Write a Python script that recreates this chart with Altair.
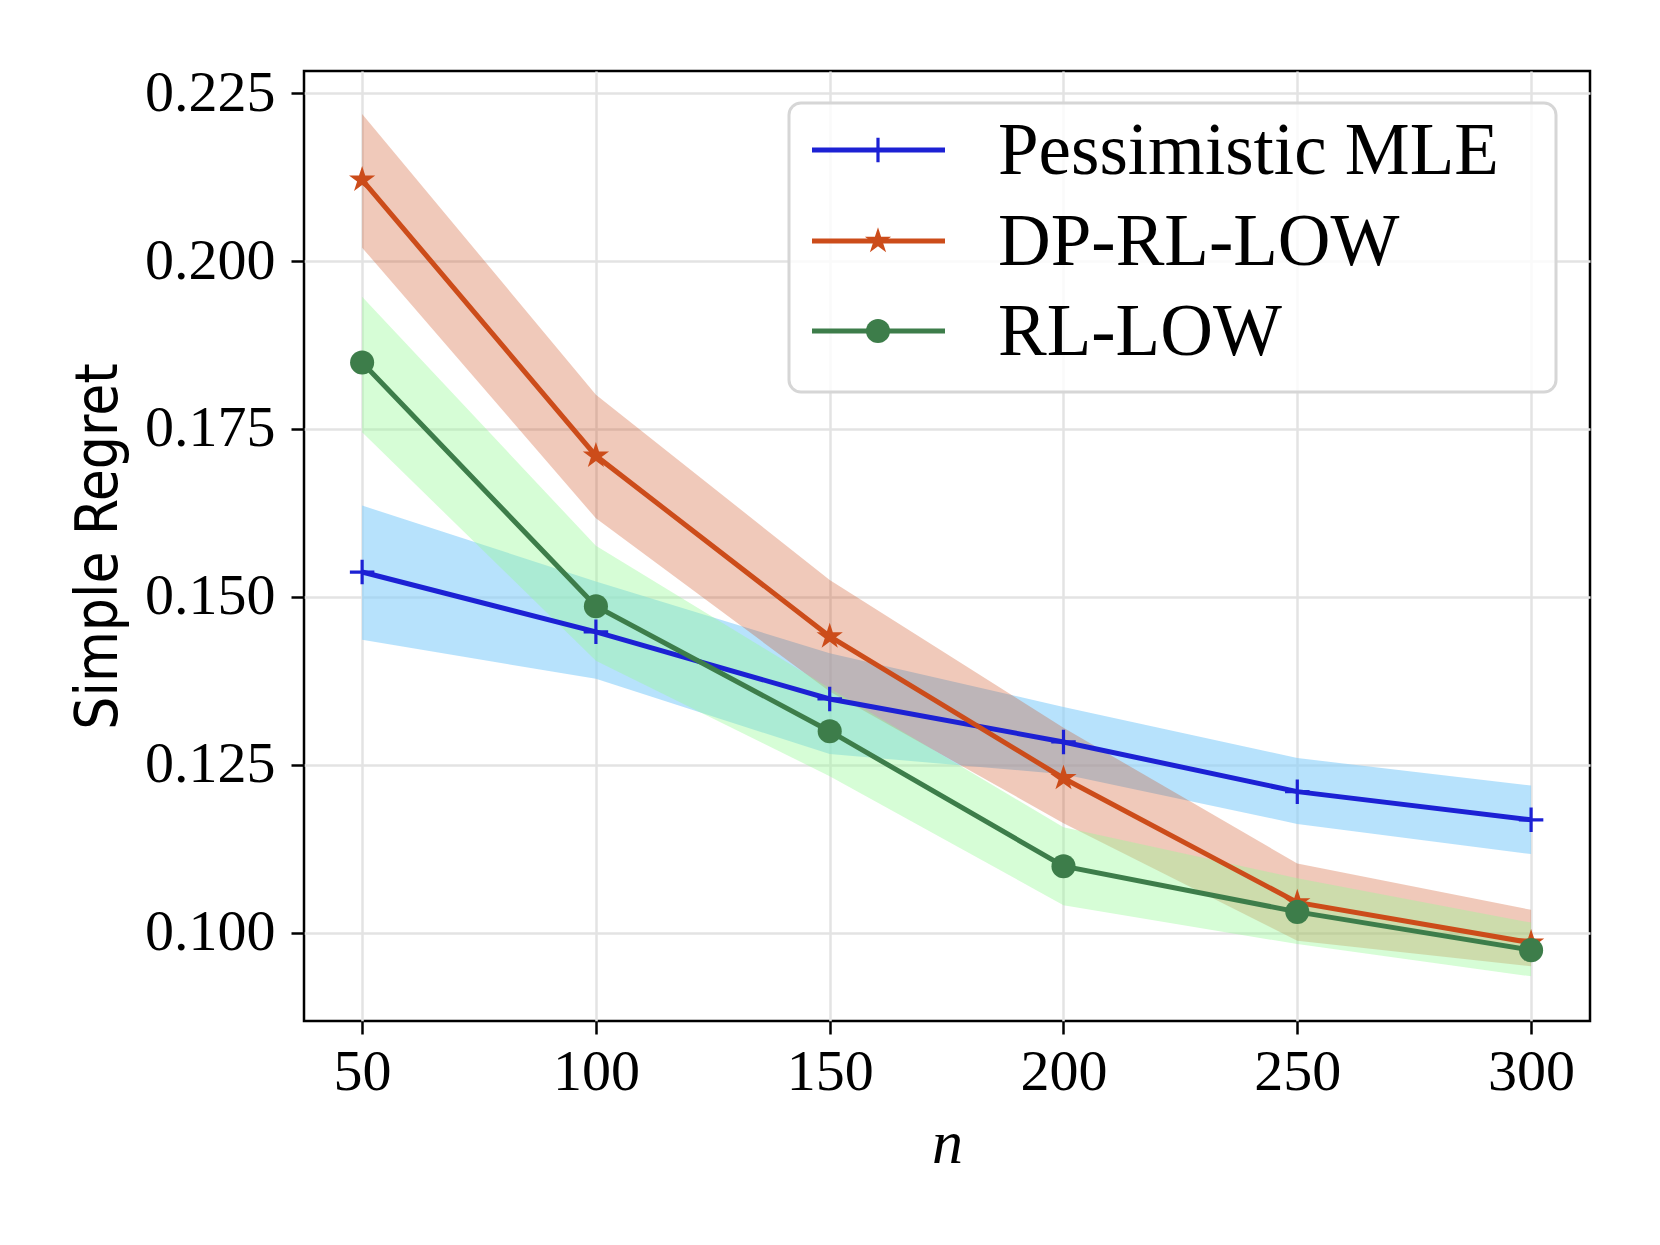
import altair as alt
import pandas as pd

n_values = [50, 100, 150, 200, 250, 300]
series_names = ["Pessimistic MLE", "DP-RL-LOW", "RL-LOW"]

mle_mean = [0.1537, 0.1448, 0.1348, 0.1284, 0.1210, 0.1168]
mle_lo = [0.1436, 0.1378, 0.1266, 0.1236, 0.1162, 0.1117]
mle_hi = [0.1636, 0.1523, 0.1416, 0.1336, 0.1260, 0.1219]

dp_mean = [0.2121, 0.1710, 0.1441, 0.1230, 0.1045, 0.0985]
dp_lo = [0.2020, 0.1617, 0.1359, 0.1163, 0.0988, 0.0950]
dp_hi = [0.2219, 0.1801, 0.1525, 0.1305, 0.1103, 0.1034]

rl_mean = [0.1849, 0.1486, 0.1300, 0.1099, 0.1031, 0.0974]
rl_lo = [0.1745, 0.1405, 0.1233, 0.1041, 0.0983, 0.0935]
rl_hi = [0.1947, 0.1576, 0.1364, 0.1157, 0.1081, 0.1015]

y_ticks = [0.100, 0.125, 0.150, 0.175, 0.200, 0.225]

line_colors = ["#1c21d4", "#cc4c1a", "#3d7d4a"]
band_colors = ["#87cefa", "#cc4c1a", "#98fb98"]
band_opacity = [0.6, 0.3, 0.4]

PLUS = "M-1,0L1,0M0,-1L0,1"
STAR = ("M0,-1L0.2245,-0.309L0.951,-0.309L0.363,0.118L0.588,0.809L0,0.382"
        "L-0.588,0.809L-0.363,0.118L-0.951,-0.309L-0.2245,-0.309Z")
shapes = [PLUS, STAR, "circle"]
shape_filled = [False, True, True]
shape_sizes = [600, 760, 580]

means = [mle_mean, dp_mean, rl_mean]
los = [mle_lo, dp_lo, rl_lo]
his = [mle_hi, dp_hi, rl_hi]

frames = [pd.DataFrame({"n": n_values, "mean": m, "lo": l, "hi": h})
          for m, l, h in zip(means, los, his)]

x_scale = alt.Scale(domain=[37.57, 312.6], nice=False, zero=False)
y_scale = alt.Scale(domain=[0.08685, 0.2283], nice=False, zero=False)

x_axis = alt.Axis(values=n_values, title="n", format="d",
                  titleFont="Liberation Serif", titleFontStyle="italic",
                  titleFontWeight="normal", titleFontSize=62,
                  titleBaseline="alphabetic", titleY=141,
                  labelPadding=9)
y_axis = alt.Axis(values=y_ticks, title="Simple Regret", format=".3f",
                  titleFont="Liberation Sans Narrow, DejaVu Sans Condensed, sans-serif",
                  titleFontWeight="normal", titleFontSize=58,
                  titleBaseline="alphabetic", titleX=-188,
                  labelPadding=16)

def X(field="n"):
    return alt.X(f"{field}:Q", scale=x_scale, axis=x_axis)

def Y(field):
    return alt.Y(f"{field}:Q", scale=y_scale, axis=y_axis)

layers = []
for i in range(3):
    layers.append(
        alt.Chart(frames[i]).mark_area(color=band_colors[i], opacity=band_opacity[i])
        .encode(x=X(), y=Y("lo"), y2="hi")
    )
for i in range(3):
    layers.append(
        alt.Chart(frames[i]).mark_line(color=line_colors[i], strokeWidth=5)
        .encode(x=X(), y=Y("mean"))
    )
    layers.append(
        alt.Chart(frames[i]).mark_point(
            shape=shapes[i], filled=shape_filled[i], color=line_colors[i],
            size=shape_sizes[i], strokeWidth=3.2, opacity=1)
        .encode(x=X(), y=Y("mean"))
    )

# legend (drawn inside the plot, upper right)
one = pd.DataFrame({"k": [0]})
layers.append(
    alt.Chart(one).mark_rect(fill="white", fillOpacity=0.8, stroke="#d6d6d6",
                             strokeWidth=3, cornerRadius=12)
    .encode(x=alt.value(485), x2=alt.value(1252), y=alt.value(32), y2=alt.value(321))
)
row_y = [79, 170, 260]
for i, name in enumerate(series_names):
    layers.append(
        alt.Chart(one).mark_rule(color=line_colors[i], strokeWidth=5)
        .encode(x=alt.value(508), x2=alt.value(641), y=alt.value(row_y[i]))
    )
    layers.append(
        alt.Chart(one).mark_point(shape=shapes[i], filled=shape_filled[i],
                                  color=line_colors[i], size=shape_sizes[i],
                                  strokeWidth=3.2, opacity=1)
        .encode(x=alt.value(574), y=alt.value(row_y[i]))
    )
    layers.append(
        alt.Chart(one).mark_text(align="left", baseline="middle", font="Liberation Serif",
                                 fontSize=73, color="black")
        .encode(x=alt.value(694), y=alt.value(row_y[i] + 2), text=alt.value(name))
    )

chart = (
    alt.layer(*layers)
    .properties(width=1286, height=950,
                autosize=alt.AutoSizeParams(type="none"),
                padding={"left": 296, "top": 63, "right": 62, "bottom": 216})
    .configure_view(stroke="black", strokeWidth=2.5)
    .configure_axis(grid=True, gridColor="#e3e3e3", gridWidth=2.5, domain=False,
                    tickColor="black", tickSize=13, tickWidth=2.5,
                    labelFont="Liberation Serif", labelFontSize=58, labelColor="black",
                    titleColor="black")
)

chart.save("out.html", embed_options={"renderer": "svg", "actions": False})
